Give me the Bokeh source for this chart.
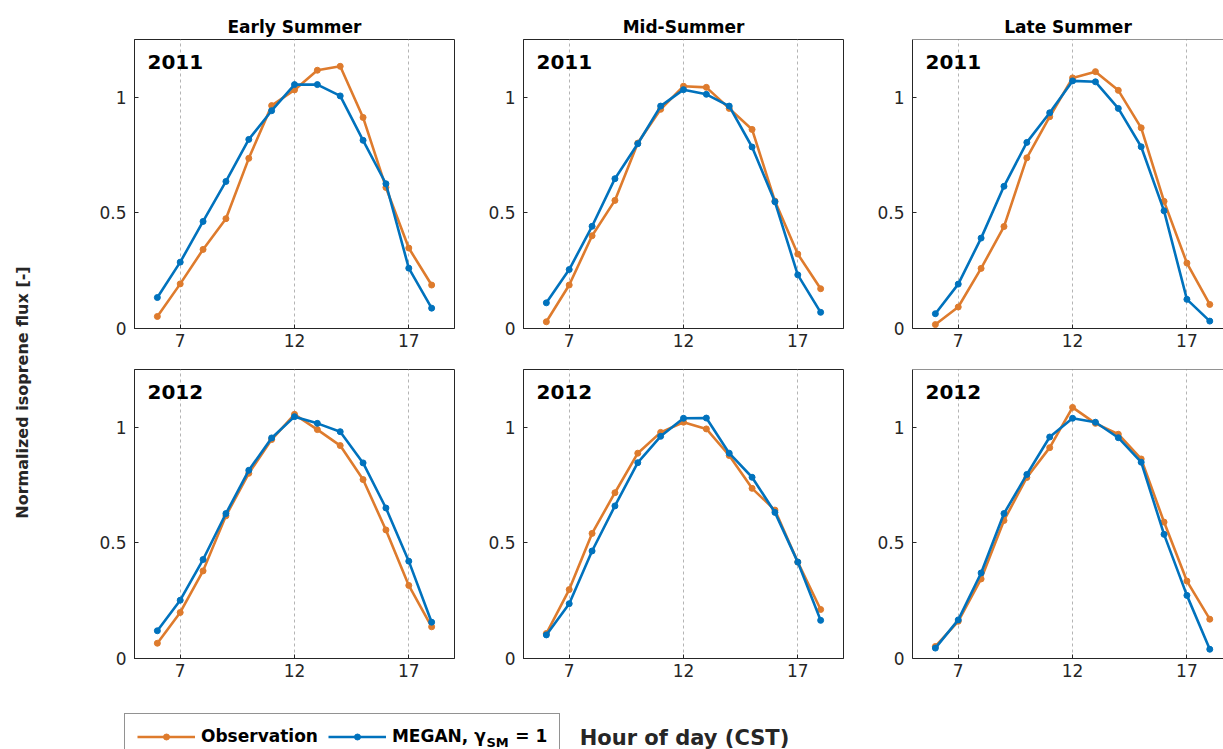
import math
from bokeh.plotting import figure
from bokeh.layouts import row, column
from bokeh.models import (Range1d, FixedTicker, LinearAxis, Label, Legend,
                          LegendItem, Grid, Span)
from bokeh.embed import file_html
from bokeh.resources import INLINE

# ---------------- data ----------------
hours = [6, 7, 8, 9, 10, 11, 12, 13, 14, 15, 16, 17, 18]
seasons = ["Early Summer", "Mid-Summer", "Late Summer"]
years = ["2011", "2012"]
x_ticks = [7, 12, 17]
y_ticks = [0, 0.5, 1]
y_tick_labels = ["0", "0.5", "1"]
series_names = ["Observation", "MEGAN, \u03b3\u00a0\u00a0\u00a0\u00a0\u00a0= 1"]

obs_early_2011 = [0.052, 0.193, 0.342, 0.475, 0.736, 0.964, 1.032, 1.117, 1.134, 0.913, 0.610, 0.348, 0.188]
meg_early_2011 = [0.134, 0.287, 0.463, 0.636, 0.818, 0.942, 1.055, 1.055, 1.006, 0.814, 0.626, 0.261, 0.088]
obs_mid_2011 = [0.029, 0.188, 0.401, 0.554, 0.802, 0.948, 1.048, 1.043, 0.952, 0.861, 0.551, 0.322, 0.172]
meg_mid_2011 = [0.111, 0.255, 0.442, 0.648, 0.799, 0.962, 1.033, 1.013, 0.962, 0.785, 0.548, 0.232, 0.070]
obs_late_2011 = [0.017, 0.093, 0.260, 0.441, 0.738, 0.916, 1.084, 1.111, 1.030, 0.868, 0.550, 0.283, 0.104]
meg_late_2011 = [0.064, 0.192, 0.391, 0.615, 0.805, 0.933, 1.071, 1.067, 0.952, 0.786, 0.509, 0.126, 0.032]
obs_early_2012 = [0.066, 0.199, 0.379, 0.617, 0.801, 0.947, 1.056, 0.990, 0.921, 0.774, 0.556, 0.316, 0.137]
meg_early_2012 = [0.120, 0.252, 0.428, 0.627, 0.814, 0.954, 1.046, 1.017, 0.981, 0.846, 0.651, 0.421, 0.157]
obs_mid_2012 = [0.108, 0.298, 0.541, 0.717, 0.888, 0.978, 1.022, 0.993, 0.878, 0.736, 0.642, 0.417, 0.212]
meg_mid_2012 = [0.102, 0.237, 0.465, 0.660, 0.847, 0.961, 1.039, 1.040, 0.888, 0.784, 0.632, 0.417, 0.165]
obs_late_2012 = [0.052, 0.161, 0.344, 0.597, 0.783, 0.912, 1.086, 1.017, 0.970, 0.863, 0.590, 0.335, 0.170]
meg_late_2012 = [0.045, 0.167, 0.370, 0.627, 0.796, 0.958, 1.039, 1.022, 0.955, 0.849, 0.537, 0.273, 0.040]

panels = [
    [(obs_early_2011, meg_early_2011), (obs_mid_2011, meg_mid_2011), (obs_late_2011, meg_late_2011)],
    [(obs_early_2012, meg_early_2012), (obs_mid_2012, meg_mid_2012), (obs_late_2012, meg_late_2012)],
]

# ---------------- style / layout ----------------
ORANGE = "#DE7B2D"
BLUE = "#0072BD"
AX = "#262626"
FONT = "DejaVu Sans"

col_w = [412, 385, 358]
col_bl = [66, 43, 47]
col_br = [26, 22, 0]
x_end = [19, 19, 18.6]
row_h = [355, 337]
row_bt = [39, 14]
row_bb = [27, 34]


def style_axis(ax, standoff=5):
    ax.axis_line_color = AX
    ax.axis_line_width = 1
    ax.major_tick_line_color = AX
    ax.major_tick_in = 4
    ax.major_tick_out = 0
    ax.minor_tick_in = 0
    ax.minor_tick_out = 0
    ax.major_label_text_color = AX
    ax.major_label_text_font = FONT
    ax.major_label_text_font_size = "17px"
    ax.major_label_standoff = standoff


def make_panel(ri, ci):
    obs, meg = panels[ri][ci]
    p = figure(width=col_w[ci], height=row_h[ri],
               x_range=Range1d(5, x_end[ci]), y_range=Range1d(0, 1.25),
               min_border_left=col_bl[ci], min_border_right=col_br[ci],
               min_border_top=row_bt[ri], min_border_bottom=row_bb[ri],
               x_axis_location=None, y_axis_location=None,
               output_backend="svg", toolbar_location=None,
               title=seasons[ci] if ri == 0 else None)
    for g in list(p.grid):
        g.visible = False
    if ri == 0:
        p.title.align = "center"
        p.title.text_font = FONT
        p.title.text_font_style = "bold"
        p.title.text_font_size = "17px"
        p.title.text_color = "black"
        p.title.standoff = 5
    if ci < 2:
        p.outline_line_color = AX
        p.outline_line_width = 1
    else:
        p.outline_line_color = None
        p.add_layout(Span(location=1.25, dimension="width", line_color=AX, line_width=1))

    p.add_layout(Grid(dimension=0, ticker=FixedTicker(ticks=x_ticks),
                      grid_line_color="#b4b4b4", grid_line_dash="3 3",
                      grid_line_width=1))

    xb = LinearAxis(ticker=FixedTicker(ticks=x_ticks))
    style_axis(xb, 5)
    p.add_layout(xb, "below")

    yl = LinearAxis(ticker=FixedTicker(ticks=y_ticks),
                    major_label_overrides=dict(zip(y_ticks, y_tick_labels)))
    style_axis(yl, 8)
    p.add_layout(yl, "left")

    p.line(hours, obs, color=ORANGE, line_width=2.6)
    p.scatter(hours, obs, color=ORANGE, size=6)
    p.line(hours, meg, color=BLUE, line_width=2.6)
    p.scatter(hours, meg, color=BLUE, size=6)

    p.add_layout(Label(x=13, y=267, x_units="screen", y_units="screen",
                       text=years[ri], text_font=FONT, text_font_style="bold",
                       text_font_size="20px", text_color="black",
                       text_baseline="middle", text_align="left"))
    return p


grid_rows = []
for ri in range(2):
    grid_rows.append(row(*[make_panel(ri, ci) for ci in range(3)]))
grid = column(*grid_rows)

# y label figure
py = figure(width=68, height=692, x_range=Range1d(0, 1), y_range=Range1d(0, 1),
            min_border=0, x_axis_location=None, y_axis_location=None,
            output_backend="svg", toolbar_location=None)
py.outline_line_color = None
for g in list(py.grid):
    g.visible = False
py.add_layout(Label(x=22, y=300, x_units="screen", y_units="screen",
                    text="Normalized isoprene flux [-]", angle=math.pi / 2,
                    text_font=FONT, text_font_style="bold", text_font_size="16px",
                    text_color=AX, text_align="center", text_baseline="middle"))

# bottom figure: legend + x label
pb = figure(width=1223, height=57, x_range=Range1d(0, 1), y_range=Range1d(0, 1),
            min_border=0, x_axis_location=None, y_axis_location=None,
            output_backend="svg", toolbar_location=None)
pb.outline_line_color = None
for g in list(pb.grid):
    g.visible = False
# legend renderers (their data lies outside this strip's view; only the legend samples show)
r1 = pb.line(hours, obs_early_2011, color=ORANGE, line_width=2.6)
r2 = pb.scatter(hours, obs_early_2011, color=ORANGE, size=6)
r3 = pb.line(hours, meg_early_2011, color=BLUE, line_width=2.6)
r4 = pb.scatter(hours, meg_early_2011, color=BLUE, size=6)
legend = Legend(items=[LegendItem(label=series_names[0], renderers=[r1, r2]),
                       LegendItem(label=series_names[1], renderers=[r3, r4])],
                location=(124, -10), orientation="horizontal",
                padding=12, margin=0, spacing=10, glyph_width=58, glyph_height=15,
                label_height=15, label_standoff=6,
                label_text_font=FONT, label_text_font_style="bold",
                label_text_font_size="17px", label_text_color="black",
                border_line_color=AX, border_line_width=1,
                background_fill_color="white", background_fill_alpha=0)
pb.add_layout(legend, "center")
pb.add_layout(Label(x=486, y=7, x_units="screen", y_units="screen",
                    text="SM", text_font=FONT, text_font_style="bold",
                    text_font_size="13px", text_color="black",
                    text_baseline="middle", text_align="left", level="overlay"))
pb.add_layout(Label(x=684, y=12, x_units="screen", y_units="screen",
                    text="Hour of day (CST)", text_font=FONT, text_font_style="bold",
                    text_font_size="21px", text_color=AX,
                    text_baseline="middle", text_align="center"))

root = column(row(py, grid), pb)

open("out.html", "w").write(file_html(root, INLINE))
